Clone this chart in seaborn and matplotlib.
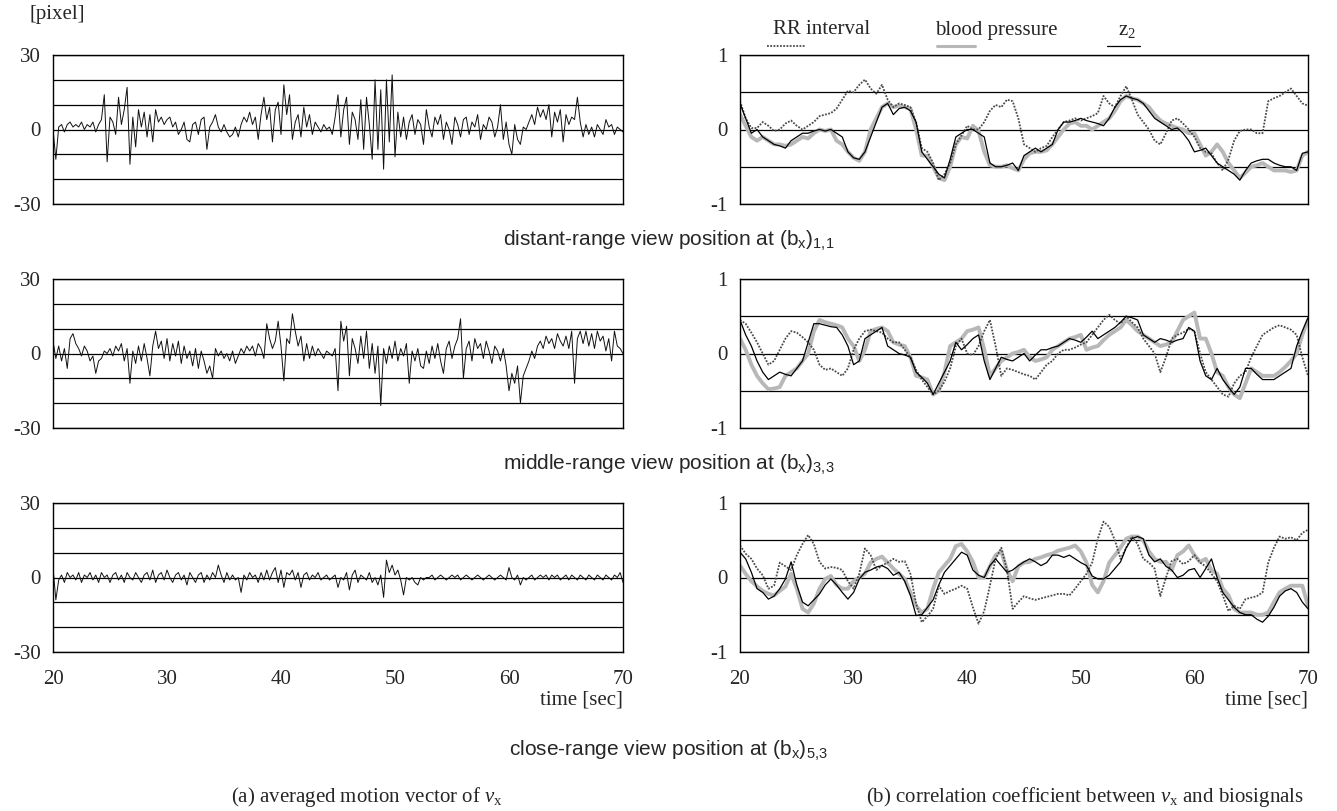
import numpy as np
import matplotlib
matplotlib.use("Agg")
import matplotlib.pyplot as plt
from matplotlib.lines import Line2D
import seaborn as sns

# ---- data (time 20..70 s) ----
# averaged motion vector v_x [pixel], sampled every 0.25 s
vx_distant = [
    0, -12, 1, 2, -1, 2, 3, 1, 2, 1, 3, 0, 2, 1, 3, -1, 2, 4, 14, -13,
    5, 3, -2, 13, 2, 8, 17, -14, 5, -7, 8, 1, 7, -3, 6, -5, 8, 3, 5, 2,
    4, 5, 1, 3, -2, 0, 3, -4, -5, 2, 3, -2, 4, 5, -8, 1, 3, 6, 1, -1,
    2, -1, -3, -2, 1, -3, 2, 5, 3, 7, 2, 5, -4, 6, 13, 4, 9, -5, 8, 11,
    -2, 18, 6, 14, -4, 3, 6, -3, 9, 1, 6, -2, 3, 1, -1, 2, 0, 1, -2, 5,
    14, -3, 8, 13, -6, 7, 4, -4, 12, -8, 13, 2, -12, 20, -8, 16, -16, 20, -5, 22,
    -11, 7, -3, 5, -4, 3, 6, -2, 4, 2, -6, 8, 1, -3, 5, 2, 6, -4, 3, 0,
    -6, 5, 2, -3, 4, 5, -2, 3, 1, 6, -4, 2, 0, 5, 3, -3, 1, 10, -4, 3,
    -6, -10, 2, -4, -6, 1, 0, 3, 6, 2, 9, 5, 8, 4, 10, -3, 7, 3, 8, -5,
    6, 2, 5, 4, 13, 3, -3, 2, -2, 1, -3, 2, 0, -2, 4, 1, 2, -2, 1, 0,
    -1]
vx_middle = [
    5, -2, 3, -3, 2, -6, 6, 8, 4, 2, -1, 3, 1, -3, -1, -8, -3, -2, 1, 0,
    2, -1, 3, 1, 4, -3, 2, -12, 1, -4, 3, -3, 4, -2, -9, 3, 9, 2, 5, -2,
    6, -3, 4, -1, 5, -4, 3, -2, 1, -5, 2, -6, 1, -3, -8, -5, -10, 2, -1, 1,
    -2, 0, -3, 1, -4, -1, 2, 0, 3, 1, 3, -1, 4, 2, -2, 12, 6, 2, 5, 13,
    3, -11, 6, 4, 16, 9, 3, 7, -3, 4, -2, 3, -1, 2, 0, -2, 1, 0, -1, 2,
    -15, 13, 5, 11, -9, 6, 2, -4, 7, -2, 9, -6, 4, -8, 3, -21, 2, -4, 3, -2,
    5, -3, 2, -1, 4, -12, 1, -3, 2, -5, -6, 1, -4, 3, -2, 4, -3, -8, 2, 5,
    -2, 3, 6, 14, -10, 2, 5, -3, 6, 2, 4, -2, 5, 1, -4, 3, 1, -3, 2, -5,
    -15, -8, -12, -5, -20, -9, -6, -3, 1, -2, 3, 5, 2, 7, 4, 6, 2, 8, 5, 3,
    7, 2, 9, -12, 6, 9, 4, 9, 3, 8, 2, 9, 5, 7, 1, 6, -3, 9, 3, 2,
    0]
vx_close = [
    4, -9, -1, 1, -2, 2, 0, 1, -1, 2, -2, 1, 0, 2, -1, 1, -2, 2, 0, 1,
    -2, 1, 2, -1, 1, -2, 2, 0, -1, 2, 0, -2, 1, 2, -1, 3, -2, 1, 2, -1,
    3, 0, -2, 1, 2, -1, 1, -3, 2, 0, -2, 1, 2, -2, 1, -1, 2, 0, 5, 1,
    -2, 2, -1, 1, -1, 0, -6, 1, -1, 2, 0, 1, -2, 2, -1, 3, -1, 2, 4, -2,
    3, -4, 2, 1, 3, -1, 2, -4, 1, 2, -1, 1, 0, 2, -1, 0, 1, -1, 0, 1,
    -4, 0, -1, 2, -5, 1, 3, -2, 1, 0, -1, 2, -2, 0, -3, 1, -8, 7, 2, 5,
    1, 3, -1, -7, 0, -1, 0, -2, -3, 0, -1, 0, 0, 1, -1, 0, 1, 0, -1, 0,
    1, 0, 1, -1, 0, 1, 0, -1, 0, 1, 0, -1, 0, 1, 0, -1, 0, 1, 0, -1,
    4, 0, -1, 1, -3, 0, -1, 0, 1, -1, 0, 1, 0, 1, -1, 1, 0, 1, -1, 0,
    1, -1, 1, 0, -1, 1, 0, -1, 1, 0, -1, 1, 0, -1, 1, 0, -1, 1, 0, 2,
    -2]

# correlation coefficients, sampled every 0.5 s
rr_distant = [
    0.38, 0.15, 0.02, 0.02, 0.10, 0.05, -0.02, 0.00, 0.08, 0.12, 0.05, 0.00, 0.05, 0.10, 0.18, 0.20, 0.22, 0.28, 0.40, 0.52,
    0.50, 0.60, 0.67, 0.55, 0.48, 0.60, 0.40, 0.30, 0.35, 0.33, 0.30, 0.10, -0.25, -0.30, -0.45, -0.68, -0.60, -0.45, -0.20, -0.08,
    0.05, 0.00, 0.00, 0.10, 0.25, 0.33, 0.30, 0.40, 0.38, 0.15, -0.20, -0.25, -0.30, -0.25, -0.22, -0.10, 0.00, 0.10, 0.12, 0.15,
    0.12, 0.15, 0.18, 0.22, 0.45, 0.35, 0.30, 0.45, 0.58, 0.40, 0.20, 0.10, 0.00, -0.15, -0.20, -0.05, 0.12, 0.15, 0.08, 0.00,
    -0.10, -0.25, -0.30, -0.32, -0.45, -0.55, -0.40, -0.15, -0.02, 0.00, 0.00, -0.05, -0.05, 0.38, 0.42, 0.45, 0.50, 0.55, 0.45, 0.35,
    0.32]
bp_distant = [
    0.20, 0.05, -0.10, -0.15, -0.10, -0.15, -0.20, -0.20, -0.22, -0.20, -0.15, -0.10, -0.12, -0.05, 0.00, -0.02, 0.00, -0.15, -0.20, -0.30,
    -0.38, -0.42, -0.30, 0.00, 0.15, 0.30, 0.35, 0.30, 0.32, 0.30, 0.28, 0.00, -0.35, -0.35, -0.50, -0.65, -0.68, -0.50, -0.20, -0.10,
    -0.12, 0.05, -0.02, -0.30, -0.48, -0.50, -0.50, -0.48, -0.52, -0.55, -0.40, -0.32, -0.30, -0.30, -0.28, -0.20, -0.10, 0.00, 0.08, 0.10,
    0.05, 0.05, 0.00, 0.05, 0.10, 0.15, 0.25, 0.38, 0.45, 0.42, 0.40, 0.35, 0.30, 0.20, 0.12, 0.08, 0.05, 0.02, 0.00, -0.05,
    -0.05, -0.20, -0.35, -0.30, -0.20, -0.30, -0.45, -0.55, -0.65, -0.58, -0.50, -0.48, -0.45, -0.50, -0.55, -0.55, -0.55, -0.57, -0.55, -0.35,
    -0.30]
z2_distant = [
    0.35, 0.15, -0.05, 0.00, -0.10, -0.15, -0.20, -0.22, -0.25, -0.15, -0.10, -0.05, -0.05, -0.02, 0.00, -0.02, 0.00, -0.05, -0.10, -0.30,
    -0.38, -0.40, -0.30, -0.10, 0.10, 0.30, 0.35, 0.20, 0.28, 0.30, 0.25, 0.10, -0.30, -0.40, -0.50, -0.60, -0.65, -0.40, -0.10, -0.05,
    0.00, 0.00, -0.05, -0.10, -0.45, -0.50, -0.50, -0.48, -0.45, -0.55, -0.35, -0.30, -0.25, -0.30, -0.25, -0.20, 0.00, 0.10, 0.10, 0.12,
    0.15, 0.12, 0.10, 0.08, 0.05, 0.15, 0.30, 0.40, 0.45, 0.42, 0.40, 0.35, 0.25, 0.15, 0.10, 0.05, 0.00, 0.02, -0.05, -0.15,
    -0.30, -0.28, -0.25, -0.35, -0.45, -0.50, -0.55, -0.60, -0.68, -0.55, -0.45, -0.42, -0.40, -0.40, -0.45, -0.48, -0.50, -0.50, -0.55, -0.32,
    -0.30]
rr_middle = [
    0.45, 0.40, 0.28, 0.15, 0.00, -0.15, -0.10, 0.05, 0.20, 0.30, 0.28, 0.22, 0.15, 0.05, -0.15, -0.22, -0.20, -0.25, -0.30, -0.20,
    0.05, 0.20, 0.30, 0.32, 0.30, 0.28, 0.20, 0.15, 0.15, 0.05, -0.05, -0.22, -0.35, -0.45, -0.55, -0.50, -0.38, -0.20, 0.10, 0.20,
    0.00, -0.02, 0.10, 0.30, 0.45, 0.10, -0.30, -0.20, -0.22, -0.25, -0.28, -0.30, -0.35, -0.25, -0.15, -0.10, 0.00, 0.05, 0.05, 0.08,
    0.12, 0.15, 0.25, 0.35, 0.45, 0.52, 0.45, 0.40, 0.50, 0.42, 0.35, 0.20, 0.10, 0.00, -0.25, -0.05, 0.20, 0.25, 0.28, 0.33,
    0.30, 0.00, -0.25, -0.35, -0.45, -0.55, -0.58, -0.40, -0.30, -0.25, -0.05, 0.10, 0.25, 0.30, 0.35, 0.38, 0.35, 0.32, 0.25, -0.05,
    -0.30]
bp_middle = [
    0.20, 0.05, -0.15, -0.30, -0.40, -0.48, -0.47, -0.45, -0.30, -0.25, -0.20, -0.10, 0.00, 0.30, 0.45, 0.42, 0.40, 0.38, 0.35, 0.20,
    0.10, -0.10, 0.05, 0.30, 0.33, 0.35, 0.30, 0.15, 0.12, 0.10, -0.05, -0.30, -0.32, -0.35, -0.55, -0.50, -0.25, 0.10, 0.15, 0.20,
    0.30, 0.32, 0.35, 0.05, -0.30, -0.20, -0.10, -0.05, 0.00, 0.02, 0.05, -0.05, -0.10, -0.08, -0.05, 0.05, 0.10, 0.15, 0.20, 0.22,
    0.25, 0.05, 0.08, 0.10, 0.18, 0.25, 0.30, 0.35, 0.45, 0.38, 0.30, 0.25, 0.20, 0.15, 0.10, 0.12, 0.15, 0.30, 0.45, 0.50,
    0.55, 0.20, 0.20, 0.00, -0.25, -0.30, -0.45, -0.55, -0.60, -0.40, -0.20, -0.25, -0.30, -0.30, -0.30, -0.25, -0.18, -0.10, 0.00, 0.25,
    0.45]
z2_middle = [
    0.45, 0.25, 0.10, -0.10, -0.25, -0.35, -0.30, -0.25, -0.28, -0.30, -0.20, -0.10, 0.15, 0.40, 0.40, 0.38, 0.36, 0.35, 0.25, 0.10,
    -0.15, -0.10, 0.20, 0.25, 0.30, 0.35, 0.10, 0.05, 0.00, -0.02, -0.05, -0.25, -0.32, -0.40, -0.55, -0.40, -0.25, -0.10, 0.15, 0.05,
    0.12, 0.20, 0.25, -0.10, -0.35, -0.20, -0.05, -0.08, -0.10, -0.05, 0.00, -0.10, -0.02, 0.05, 0.05, 0.08, 0.10, 0.15, 0.20, 0.18,
    0.15, 0.22, 0.30, 0.20, 0.25, 0.30, 0.35, 0.42, 0.50, 0.48, 0.45, 0.25, 0.20, 0.15, 0.20, 0.18, 0.15, 0.18, 0.20, 0.35,
    0.30, -0.10, -0.30, -0.35, -0.20, -0.35, -0.45, -0.55, -0.45, -0.20, -0.20, -0.28, -0.35, -0.35, -0.35, -0.30, -0.25, -0.20, 0.10, 0.30,
    0.48]
rr_close = [
    0.43, 0.32, 0.25, 0.12, 0.03, -0.15, -0.11, 0.20, 0.15, 0.10, 0.30, 0.45, 0.57, 0.45, 0.21, 0.12, 0.14, 0.13, 0.10, -0.05,
    -0.15, 0.05, 0.39, 0.30, 0.10, 0.16, 0.20, 0.25, 0.21, 0.22, 0.05, -0.35, -0.60, -0.52, -0.42, -0.11, -0.22, -0.18, -0.15, -0.11,
    -0.15, -0.40, -0.62, -0.45, -0.11, 0.25, 0.40, 0.10, -0.42, -0.33, -0.25, -0.28, -0.30, -0.28, -0.26, -0.24, -0.22, -0.22, -0.24, -0.15,
    -0.05, 0.05, 0.20, 0.52, 0.75, 0.68, 0.50, 0.25, 0.40, 0.55, 0.45, 0.25, 0.20, 0.12, -0.25, 0.00, 0.22, 0.25, 0.18, 0.22,
    0.30, 0.20, 0.15, 0.05, -0.05, -0.24, -0.45, -0.38, -0.42, -0.29, -0.27, -0.25, -0.20, 0.20, 0.40, 0.55, 0.52, 0.54, 0.50, 0.60,
    0.64]
bp_close = [
    0.16, 0.05, -0.05, -0.12, -0.18, -0.22, -0.24, -0.18, -0.12, 0.05, -0.15, -0.42, -0.47, -0.35, -0.15, -0.02, 0.02, -0.10, -0.15, -0.15,
    -0.05, 0.00, 0.05, 0.20, 0.25, 0.28, 0.20, 0.12, 0.05, -0.02, -0.20, -0.38, -0.47, -0.42, -0.15, 0.07, 0.16, 0.25, 0.42, 0.45,
    0.35, 0.21, 0.00, 0.00, 0.15, 0.30, 0.35, 0.10, -0.05, 0.15, 0.20, 0.21, 0.25, 0.27, 0.30, 0.32, 0.36, 0.38, 0.40, 0.43,
    0.35, 0.20, -0.10, -0.20, -0.05, 0.20, 0.30, 0.40, 0.52, 0.55, 0.55, 0.50, 0.35, 0.25, 0.21, 0.21, 0.10, 0.30, 0.35, 0.43,
    0.30, 0.21, 0.25, 0.10, 0.05, -0.15, -0.24, -0.42, -0.47, -0.47, -0.47, -0.50, -0.50, -0.47, -0.33, -0.20, -0.15, -0.11, -0.11, -0.11,
    -0.38]
z2_close = [
    0.34, 0.25, 0.07, -0.15, -0.20, -0.29, -0.25, -0.15, -0.02, 0.21, -0.10, -0.33, -0.38, -0.30, -0.22, -0.10, -0.02, -0.10, -0.20, -0.29,
    -0.20, -0.02, 0.07, 0.10, 0.14, 0.16, 0.12, 0.03, 0.07, -0.05, -0.24, -0.51, -0.50, -0.40, -0.30, -0.10, 0.07, 0.16, 0.25, 0.34,
    0.30, 0.10, 0.03, 0.00, 0.16, 0.25, 0.16, 0.07, 0.10, 0.16, 0.21, 0.25, 0.21, 0.16, 0.20, 0.30, 0.30, 0.27, 0.30, 0.25,
    0.20, 0.16, 0.02, -0.02, -0.02, 0.03, 0.12, 0.21, 0.40, 0.52, 0.55, 0.52, 0.30, 0.21, 0.25, 0.15, 0.10, 0.00, 0.03, 0.10,
    0.12, 0.00, 0.12, 0.25, 0.00, -0.20, -0.30, -0.40, -0.47, -0.50, -0.50, -0.56, -0.60, -0.52, -0.40, -0.25, -0.18, -0.15, -0.20, -0.33,
    -0.42]

row_captions = [r"distant-range view position at (b$_{\mathsf{x}}$)$_{\mathsf{1{,}1}}$",
                r"middle-range view position at (b$_{\mathsf{x}}$)$_{\mathsf{3{,}3}}$",
                r"close-range view position at (b$_{\mathsf{x}}$)$_{\mathsf{5{,}3}}$"]
motion = [vx_distant, vx_middle, vx_close]
corr = [(rr_distant, bp_distant, z2_distant),
        (rr_middle, bp_middle, z2_middle),
        (rr_close, bp_close, z2_close)]

# ---- style ----
sns.set_style("white")
plt.rcParams['font.family'] = ['Liberation Serif', 'DejaVu Serif']
plt.rcParams['mathtext.fontset'] = 'custom'
plt.rcParams['mathtext.rm'] = 'Liberation Serif'
plt.rcParams['mathtext.it'] = 'Liberation Serif:italic'
plt.rcParams['mathtext.sf'] = 'Liberation Sans'
plt.rcParams['axes.unicode_minus'] = False

W, H = 1337, 811
fig = plt.figure(figsize=(W / 100, H / 100), dpi=100)
row_tops = [55, 279, 503]
ax_h = 149

RR_STYLE = dict(color='#4a4a4a', lw=1.3, ls=(0, (1, 0.8)))
BP_STYLE = dict(color='#b8b8b8', lw=2.8, ls='-')
Z2_STYLE = dict(color='black', lw=0.9, ls='-')


def make_ax(x0, w, top):
    return fig.add_axes([x0 / W, 1 - (top + ax_h) / H, w / W, ax_h / H])


def style_ax(ax, lim, major, minor, labels, bottom):
    ax.set_xlim(20, 70)
    ax.set_ylim(*lim)
    ax.set_yticks(major)
    ax.set_yticklabels(labels)
    ax.set_yticks(minor, minor=True)
    ax.grid(axis='y', which='both', color='black', lw=0.9)
    ax.grid(axis='x', visible=False)
    ax.set_axisbelow(True)
    ax.set_xticks(range(20, 71, 10))
    ax.tick_params(axis='y', which='both', length=0, pad=9, labelsize=15)
    ax.tick_params(axis='x', direction='out', length=8, width=1, pad=5,
                   labelsize=15, labelbottom=bottom, color='black')
    for s in ax.spines.values():
        s.set_color('black')
        s.set_linewidth(1)
    ax.set_xlabel('')
    ax.set_ylabel('')


for r in range(3):
    last = r == 2
    # (a) motion vector
    axl = make_ax(53, 570, row_tops[r])
    tv = np.linspace(20, 70, len(motion[r]))
    sns.lineplot(x=tv, y=motion[r], ax=axl, color='#111111', lw=0.7, estimator=None)
    style_ax(axl, (-30, 30), [-30, 0, 30], [-20, -10, 10, 20], ['-30', '0', '30'], last)

    # (b) correlation coefficients
    axr = make_ax(740, 568, row_tops[r])
    rr, bp, z2 = corr[r]
    tc = np.linspace(20, 70, len(rr))
    sns.lineplot(x=tc, y=bp, ax=axr, estimator=None, **BP_STYLE)
    sns.lineplot(x=tc, y=rr, ax=axr, estimator=None, **RR_STYLE)
    sns.lineplot(x=tc, y=z2, ax=axr, estimator=None, **Z2_STYLE)
    style_ax(axr, (-1, 1), [-1, 0, 1], [-0.5, 0.5], ['-1', '0', '1'], last)

    if last:
        for ax in (axl, axr):
            ax.text(1.0, -0.32, 'time [sec]', transform=ax.transAxes,
                    ha='right', va='center', fontsize=15)

    cap_y = [240, 464, 750][r]
    fig.text(0.5, 1 - cap_y / H, row_captions[r], ha='center', va='center',
             fontsize=15, family=['Liberation Sans', 'DejaVu Sans'])

fig.text(57 / W, 1 - 15 / H, '[pixel]', ha='center', va='center', fontsize=15)

# legend above the right column: text with a short line sample underneath
legend_items = [("RR interval", 773, 767, 805, RR_STYLE),
                ("blood pressure", 935, 937, 975, BP_STYLE),
                ("z$_2$", 1118, 1107, 1140, Z2_STYLE)]
for label, tx, lx0, lx1, st in legend_items:
    fig.text(tx / W, 1 - 30 / H, label, ha='left', va='center', fontsize=15)
    fig.add_artist(Line2D([lx0 / W, lx1 / W], [1 - 46 / H, 1 - 46 / H],
                          transform=fig.transFigure, color=st['color'],
                          lw=st['lw'] if st is not BP_STYLE else 2.2, ls=st['ls']))

fig.text(367 / W, 1 - 797 / H, r"(a) averaged motion vector of $v_{\mathrm{x}}$",
         ha='center', va='center', fontsize=15)
fig.text(1085 / W, 1 - 797 / H,
         r"(b) correlation coefficient between $v_{\mathrm{x}}$ and biosignals",
         ha='center', va='center', fontsize=15)

fig.savefig("out.png", dpi=100)
